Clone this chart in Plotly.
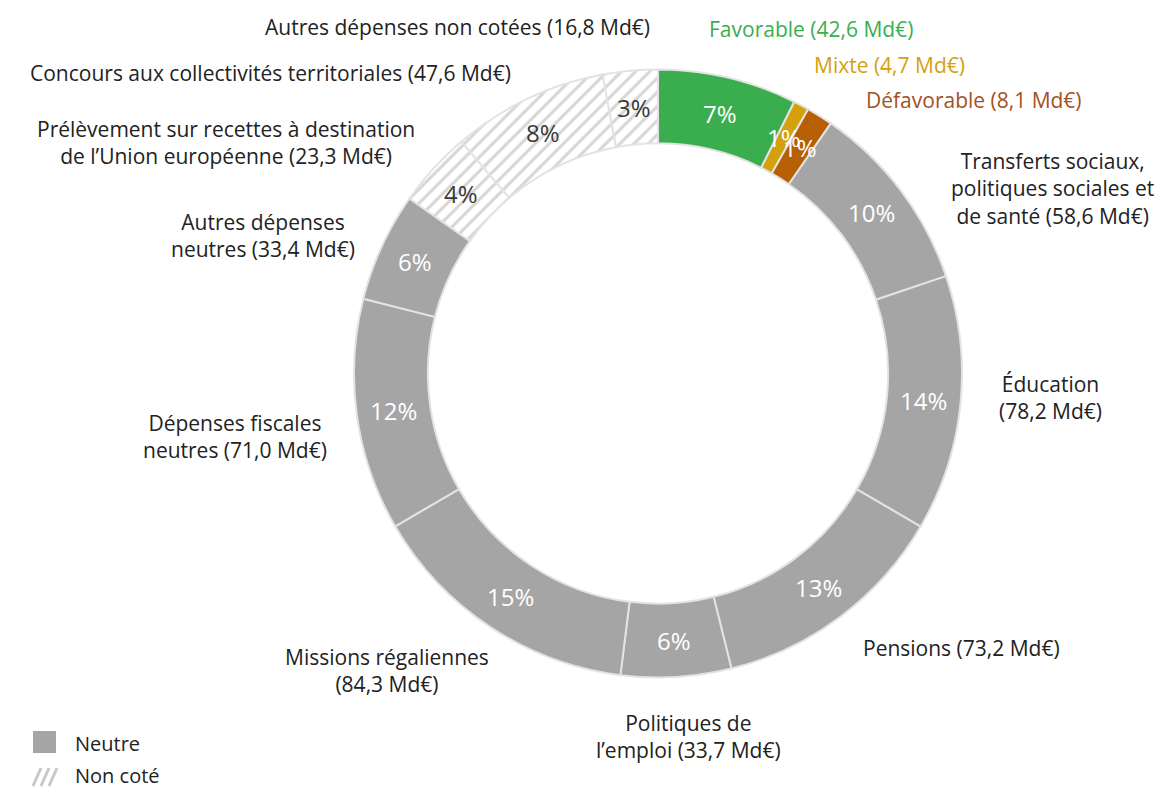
import math
import plotly.graph_objects as go

# ---- data (clockwise from 12 o'clock) ----
categories = [
    "Favorable", "Mixte", "Défavorable",
    "Transferts sociaux, politiques sociales et de santé",
    "Éducation", "Pensions", "Politiques de l'emploi",
    "Missions régaliennes", "Dépenses fiscales neutres",
    "Autres dépenses neutres",
    "Prélèvement sur recettes à destination de l'Union européenne",
    "Concours aux collectivités territoriales",
    "Autres dépenses non cotées",
]
values = [42.6, 4.7, 8.1, 58.6, 78.2, 73.2, 33.7, 84.3, 71.0, 33.4, 23.3, 47.6, 16.8]
groups = ["fav", "mix", "defav", "neutre", "neutre", "neutre", "neutre",
          "neutre", "neutre", "neutre", "noncote", "noncote", "noncote"]

label_texts = [
    "Favorable (42,6 Md€)",
    "Mixte (4,7 Md€)",
    "Défavorable (8,1 Md€)",
    "Transferts sociaux,<br>politiques sociales et<br>de santé (58,6 Md€)",
    "Éducation<br>(78,2 Md€)",
    "Pensions (73,2 Md€)",
    "Politiques de<br>l’emploi (33,7 Md€)",
    "Missions régaliennes<br>(84,3 Md€)",
    "Dépenses fiscales<br>neutres (71,0 Md€)",
    "Autres dépenses<br>neutres (33,4 Md€)",
    "Prélèvement sur recettes à destination<br>de l’Union européenne (23,3 Md€)",
    "Concours aux collectivités territoriales (47,6 Md€)",
    "Autres dépenses non cotées (16,8 Md€)",
]
# label anchor positions in pixels (x, y)
label_pos = [
    (811, 29), (889, 65), (974, 100),
    (1052, 188), (1050, 398), (961, 648), (688, 736),
    (387, 670), (235, 436), (263, 236), (226, 143), (270, 73), (457, 27),
]

W, H = 1168, 789
FONT = "Open Sans"

fill_colors = {"fav": "#3AAE4F", "mix": "#D4A10C", "defav": "#B65F05",
               "neutre": "#A5A5A5", "noncote": "#FFFFFF"}
label_colors = {"fav": "#3AAE4F", "mix": "#D4A10C", "defav": "#A3521F",
                "neutre": "#222222", "noncote": "#222222"}
pct_colors = {"fav": "white", "mix": "white", "defav": "white",
              "neutre": "white", "noncote": "#3a3a3a"}

colors = [fill_colors[g] for g in groups]
shapes_pat = ["/" if g == "noncote" else "" for g in groups]

CX, CY, R, HOLE = 658, 373.5, 304, 0.757


def px(x):
    return x / W


def py(y):
    return 1 - y / H


fig = go.Figure()
fig.add_trace(go.Pie(
    labels=categories, values=values, sort=False, direction="clockwise",
    rotation=0, hole=HOLE, textinfo="none", showlegend=False,
    hoverinfo="label+value+percent",
    marker=dict(colors=colors,
                line=dict(color="#E3E3E3", width=2),
                pattern=dict(shape=shapes_pat, fgcolor="#D6D6D6",
                             bgcolor=colors, size=10, solidity=0.3)),
    domain=dict(x=[px(CX - R), px(CX + R)], y=[py(CY + R), py(CY - R)]),
))

annotations = []
total = sum(values)
cum = 0.0
rmid = R * (1 + HOLE) / 2
for v, g in zip(values, groups):
    th = (cum + v / 2) / total * 2 * math.pi
    cum += v
    x = CX + rmid * math.sin(th)
    y = CY - rmid * math.cos(th)
    annotations.append(dict(
        x=px(x), y=py(y), xref="paper", yref="paper", showarrow=False,
        text=f"{round(v / total * 100)}%", xanchor="center", yanchor="middle",
        font=dict(family=FONT, size=24, color=pct_colors[g])))

for t, (x, y), g in zip(label_texts, label_pos, groups):
    annotations.append(dict(
        x=px(x), y=py(y), xref="paper", yref="paper", showarrow=False,
        text=t, xanchor="center", yanchor="middle", align="center",
        font=dict(family=FONT, size=21, color=label_colors[g])))

# legend
annotations.append(dict(x=px(73), y=py(743), xref="paper", yref="paper",
                        showarrow=False, text="Neutre", xanchor="left",
                        yanchor="middle",
                        font=dict(family=FONT, size=20, color="#222222")))
annotations.append(dict(x=px(73), y=py(775), xref="paper", yref="paper",
                        showarrow=False, text="Non coté", xanchor="left",
                        yanchor="middle",
                        font=dict(family=FONT, size=20, color="#222222")))

shapes = [dict(type="rect", xref="paper", yref="paper",
               x0=px(33), x1=px(56), y0=py(753), y1=py(731),
               fillcolor="#A5A5A5", line=dict(width=0))]
for k in range(3):
    x0 = 33 + k * 8
    shapes.append(dict(type="line", xref="paper", yref="paper",
                       x0=px(x0), y0=py(786), x1=px(x0 + 8), y1=py(768),
                       line=dict(color="#C8C8C8", width=3)))

fig.update_layout(
    width=W, height=H, margin=dict(l=0, r=0, t=0, b=0),
    paper_bgcolor="white", plot_bgcolor="white",
    annotations=annotations, shapes=shapes,
    font=dict(family=FONT),
)

fig.write_html("out.html", config={"displayModeBar": False},
               post_script="document.body.style.margin='0';"
                           "document.body.style.overflow='hidden';")
